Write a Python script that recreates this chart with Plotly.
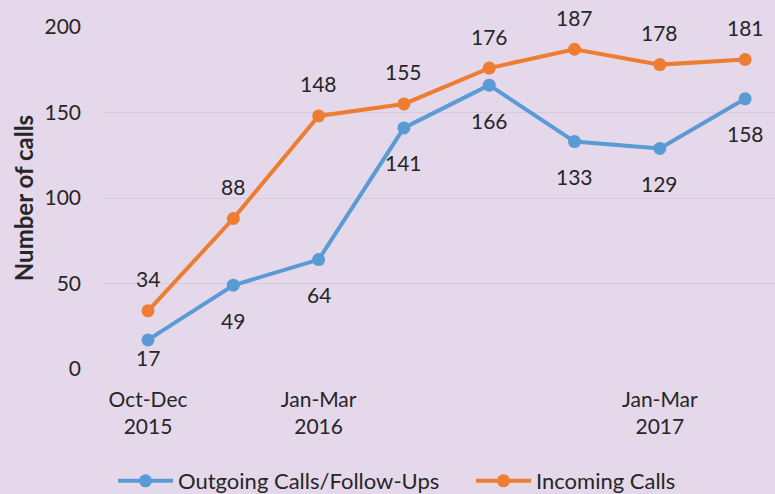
import plotly.graph_objects as go

quarters = ["Oct-Dec 2015", "Jan-Mar 2016 a", "Jan-Mar 2016", "Q4", "Q5", "Q6", "Jan-Mar 2017", "Q8"]
tick_labels = ["Oct-Dec<br>2015", "", "Jan-Mar<br>2016", "", "", "", "Jan-Mar<br>2017", ""]
outgoing = [17, 49, 64, 141, 166, 133, 129, 158]
incoming = [34, 88, 148, 155, 176, 187, 178, 181]

BLUE = "#5B9BD5"
ORANGE = "#ED7D31"
BG = "#E4D8EA"
TXT = "#262626"
FONT = "Lato, Open Sans, sans-serif"
FS = 21

xs = list(range(len(quarters)))

fig = go.Figure()
fig.add_trace(go.Scatter(x=xs, y=outgoing, mode="lines+markers", name="Outgoing Calls/Follow-Ups",
                         line=dict(color=BLUE, width=4), marker=dict(size=13, color=BLUE),
                         legend="legend"))
fig.add_trace(go.Scatter(x=xs, y=incoming, mode="lines+markers", name="Incoming Calls",
                         line=dict(color=ORANGE, width=4), marker=dict(size=13, color=ORANGE),
                         legend="legend2"))

annotations = []
for i, v in enumerate(incoming):
    annotations.append(dict(x=xs[i], y=v, text=str(v), showarrow=False, yshift=32,
                            font=dict(size=FS, color=TXT, family=FONT)))
for i, v in enumerate(outgoing):
    shift = -18 if i == 0 else -35
    annotations.append(dict(x=xs[i], y=v, text=str(v), showarrow=False, yshift=shift,
                            font=dict(size=FS, color=TXT, family=FONT)))

leg_common = dict(orientation="h", xanchor="left", xref="container", yref="container",
                  y=13/494, yanchor="middle", font=dict(size=22, color=TXT, family=FONT),
                  bgcolor="rgba(0,0,0,0)", itemwidth=55)

fig.update_layout(
    width=775, height=494,
    paper_bgcolor=BG, plot_bgcolor=BG,
    margin=dict(l=104, r=0, t=27, b=125, autoexpand=False),
    font=dict(family=FONT, size=FS, color=TXT),
    showlegend=True,
    legend=dict(x=113/775, **leg_common),
    legend2=dict(x=471/775, **leg_common),
    annotations=annotations,
    xaxis=dict(range=[-0.516, 7.35], tickmode="array", tickvals=xs, ticktext=tick_labels,
               showgrid=False, zeroline=False, showline=False, ticks="",
               ticklabelstandoff=16, tickfont=dict(size=FS, color=TXT, family=FONT)),
    yaxis=dict(range=[0, 200], tickvals=[0, 50, 100, 150, 200], showgrid=True,
               gridcolor="#D6CCDC", gridwidth=1, zeroline=False, showline=False,
               ticks="", ticklabelstandoff=22,
               tickfont=dict(size=FS, color=TXT, family=FONT),
               title=dict(text="<b>Number of calls</b>", font=dict(size=24, color=TXT, family=FONT),
                          standoff=4)),
)

fig.write_html("out.html", config={"displayModeBar": False},
               post_script="document.body.style.margin='0';document.body.style.background='%s';" % BG)
